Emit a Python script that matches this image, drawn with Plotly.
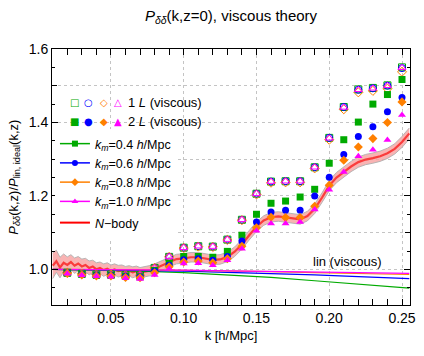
import plotly.graph_objects as go

# k values of the perturbation theory points
k_pts = [0.02, 0.03, 0.04, 0.05, 0.06, 0.07, 0.08, 0.09, 0.10, 0.11, 0.12, 0.13,
         0.14, 0.15, 0.16, 0.17, 0.18, 0.19, 0.20, 0.21, 0.22, 0.23, 0.24, 0.25]

# 1-loop (viscous), open symbols
one_loop_04 = [0.991, 0.988, 0.986, 0.986, 0.984, 0.984, 1.004, 1.034, 1.059, 1.063, 1.062, 1.081,
               1.135, 1.206, 1.239, 1.240, 1.240, 1.278, 1.358, 1.442, 1.490, 1.494, 1.501, 1.550]
one_loop_06 = [0.991, 0.988, 0.986, 0.986, 0.984, 0.984, 1.004, 1.034, 1.059, 1.063, 1.062, 1.081,
               1.135, 1.206, 1.239, 1.240, 1.240, 1.278, 1.358, 1.442, 1.489, 1.493, 1.500, 1.548]
one_loop_08 = [0.991, 0.988, 0.986, 0.986, 0.984, 0.984, 1.004, 1.034, 1.058, 1.062, 1.061, 1.080,
               1.134, 1.204, 1.236, 1.237, 1.237, 1.275, 1.353, 1.436, 1.482, 1.486, 1.492, 1.538]
one_loop_10 = [0.991, 0.988, 0.986, 0.986, 0.984, 0.984, 1.004, 1.034, 1.059, 1.063, 1.062, 1.081,
               1.135, 1.206, 1.239, 1.240, 1.240, 1.278, 1.357, 1.441, 1.489, 1.493, 1.500, 1.549]

# 2-loop (viscous), filled symbols
two_loop_04 = [0.990, 0.987, 0.984, 0.984, 0.981, 0.980, 0.997, 1.016, 1.035, 1.035, 1.033, 1.049,
               1.093, 1.150, 1.180, 1.186, 1.197, 1.218, 1.289, 1.353, 1.401, 1.450, 1.476, 1.517]
two_loop_06 = [0.990, 0.986, 0.983, 0.983, 0.980, 0.979, 0.995, 1.011, 1.026, 1.029, 1.025, 1.035,
               1.077, 1.129, 1.156, 1.161, 1.161, 1.200, 1.251, 1.313, 1.362, 1.388, 1.429, 1.468]
two_loop_08 = [0.989, 0.985, 0.982, 0.982, 0.978, 0.977, 0.991, 1.007, 1.020, 1.023, 1.018, 1.029,
               1.063, 1.113, 1.142, 1.141, 1.141, 1.172, 1.229, 1.297, 1.333, 1.356, 1.400, 1.456]
two_loop_10 = [0.988, 0.984, 0.981, 0.980, 0.976, 0.974, 0.985, 1.002, 1.016, 1.017, 1.011, 1.025,
               1.056, 1.105, 1.125, 1.125, 1.129, 1.163, 1.217, 1.265, 1.308, 1.326, 1.352, 1.420]

# linear (viscous)
k_lin = [0.01, 0.04, 0.07, 0.10, 0.13, 0.16, 0.19, 0.22, 0.255]
lin_04 = [1.000, 0.998, 0.995, 0.991, 0.985, 0.978, 0.969, 0.960, 0.949]
lin_06 = [1.000, 0.999, 0.997, 0.995, 0.992, 0.989, 0.985, 0.980, 0.975]
lin_08 = [1.000, 1.000, 0.999, 0.997, 0.996, 0.994, 0.991, 0.989, 0.986]
lin_10 = [1.000, 1.000, 0.999, 0.998, 0.996, 0.995, 0.993, 0.991, 0.989]

# N-body mean and scatter
k_nbody = [0.0100, 0.0125, 0.0150, 0.0175, 0.0200, 0.0225, 0.0250, 0.0275, 0.0300, 0.0325,
           0.0350, 0.0375, 0.0400, 0.0425, 0.0450, 0.0475, 0.0500, 0.0525, 0.0550, 0.0575,
           0.0600, 0.0625, 0.0650, 0.0675, 0.0700, 0.0725, 0.0750, 0.0775, 0.0800, 0.0850,
           0.0900, 0.0950, 0.1000, 0.1050, 0.1100, 0.1150, 0.1200, 0.1250, 0.1300, 0.1350,
           0.1400, 0.1450, 0.1500, 0.1550, 0.1600, 0.1650, 0.1700, 0.1750, 0.1800, 0.1850,
           0.1900, 0.1950, 0.2000, 0.2050, 0.2100, 0.2150, 0.2200, 0.2250, 0.2300, 0.2350,
           0.2400, 0.2450, 0.2500, 0.2550]
nbody = [1.010, 1.022, 1.005, 1.018, 1.012, 1.020, 1.010, 1.016, 1.008, 1.012,
         1.004, 1.008, 1.000, 1.004, 0.998, 1.002, 0.996, 1.000, 0.995, 0.997,
         0.993, 0.996, 0.992, 0.995, 0.991, 0.993, 0.994, 0.997, 1.002, 1.010,
         1.020, 1.028, 1.030, 1.033, 1.033, 1.030, 1.026, 1.027, 1.034, 1.048,
         1.068, 1.093, 1.116, 1.133, 1.142, 1.144, 1.141, 1.137, 1.136, 1.145,
         1.165, 1.195, 1.228, 1.250, 1.266, 1.280, 1.292, 1.299, 1.303, 1.308,
         1.316, 1.328, 1.347, 1.370]
nbody_err = [0.035, 0.030, 0.028, 0.024, 0.022, 0.020, 0.021, 0.019, 0.020, 0.018,
             0.019, 0.017, 0.018, 0.016, 0.017, 0.016, 0.016, 0.015, 0.016, 0.015,
             0.015, 0.014, 0.015, 0.014, 0.014, 0.014, 0.013, 0.014, 0.013, 0.013,
             0.013, 0.013, 0.013, 0.013, 0.013, 0.013, 0.013, 0.013, 0.013, 0.013,
             0.013, 0.013, 0.013, 0.013, 0.013, 0.013, 0.013, 0.013, 0.013, 0.013,
             0.013, 0.013, 0.014, 0.014, 0.014, 0.014, 0.014, 0.014, 0.014, 0.014,
             0.014, 0.014, 0.015, 0.015]

km_labels = ["0.4", "0.6", "0.8", "1.0"]
colors = ["rgb(0,170,0)", "rgb(0,0,255)", "rgb(255,128,0)", "rgb(255,0,255)"]
symbols = ["square", "circle", "diamond", "triangle-up"]

FONT = "Liberation Sans, Arial, sans-serif"

fig = go.Figure()

# N-body band + mean
upper = [v + e for v, e in zip(nbody, nbody_err)]
lower = [v - e for v, e in zip(nbody, nbody_err)]
fig.add_trace(go.Scatter(x=k_nbody, y=upper, mode="lines",
                         line=dict(color="rgba(175,175,175,0.9)", width=1),
                         showlegend=False, hoverinfo="skip"))
fig.add_trace(go.Scatter(x=k_nbody, y=lower, mode="lines", fill="tonexty",
                         fillcolor="rgba(248,160,160,0.8)",
                         line=dict(color="rgba(175,175,175,0.9)", width=1),
                         showlegend=False, hoverinfo="skip"))
fig.add_trace(go.Scatter(x=k_nbody, y=nbody, mode="lines",
                         line=dict(color="rgb(250,60,60)", width=2.2),
                         showlegend=False))

# linear theory lines
for ys, c in zip([lin_04, lin_06, lin_08, lin_10], colors):
    fig.add_trace(go.Scatter(x=k_lin, y=ys, mode="lines", line=dict(color=c, width=1.2),
                             showlegend=False))

# 1-loop open symbols
for ys, c, s in zip([one_loop_04, one_loop_06, one_loop_08, one_loop_10], colors, symbols):
    fig.add_trace(go.Scatter(x=k_pts, y=ys, mode="markers",
                             marker=dict(symbol=s + "-open", size=7, color=c, line=dict(width=1)),
                             showlegend=False))

# 2-loop filled symbols
for ys, c, s in zip([two_loop_04, two_loop_06, two_loop_08, two_loop_10], colors, symbols):
    fig.add_trace(go.Scatter(x=k_pts, y=ys, mode="markers",
                             marker=dict(symbol=s, size=7, color=c),
                             showlegend=False))

# legend entries
for i, (lab, c, s) in enumerate(zip(km_labels, colors, symbols)):
    fig.add_trace(go.Scatter(x=[None], y=[None], mode="lines+markers",
                             line=dict(color=c, width=1.5),
                             marker=dict(symbol=s, size=6, color=c),
                             name="<i>k</i><sub><i>m</i></sub>=" + lab + " <i>h</i>/Mpc",
                             legendgroup="km", legendrank=i + 1))
fig.add_trace(go.Scatter(x=[None], y=[None], mode="lines",
                         line=dict(color="rgb(255,0,0)", width=2),
                         name="<i>N</i>\u2212body", legendgroup="nb", legendrank=10))

# dummy trace so the 0.05 minor-tick axis gets drawn
fig.add_trace(go.Scatter(x=[None], y=[None], yaxis="y2", showlegend=False, hoverinfo="skip"))


def px2paper(px, py):
    return (px - 52) / 364, (305 - py) / 256


# hand-made legend rows for 1-loop / 2-loop symbol sets
open_glyphs = ["\u25a1", "\u25cb", "\u25c7", "\u25b3"]
fill_glyphs = ["\u25a0", "\u25cf", "\u25c6", "\u25b2"]
glyph_x = [75, 89.5, 104.5, 119]
for row_y, glyphs in [(102, open_glyphs), (121, fill_glyphs)]:
    for gx, g, c in zip(glyph_x, glyphs, colors):
        xp, yp = px2paper(gx, row_y)
        fig.add_annotation(x=xp, y=yp, xref="paper", yref="paper", text=g, showarrow=False,
                           font=dict(color=c, size=10, family="DejaVu Sans"),
                           xanchor="center", yanchor="middle")
for row_y, txt in [(102, "1 <i>L</i> (viscous)"), (121, "2 <i>L</i> (viscous)")]:
    xp, yp = px2paper(127, row_y)
    fig.add_annotation(x=xp, y=yp, xref="paper", yref="paper", text=txt, showarrow=False,
                       font=dict(color="black", size=13, family=FONT),
                       xanchor="left", yanchor="middle")

fig.add_shape(type="rect", xref="paper", yref="paper", layer="below",
              x0=px2paper(55, 0)[0], x1=px2paper(215, 0)[0],
              y0=px2paper(0, 230)[1], y1=px2paper(0, 86)[1],
              fillcolor="white", line=dict(width=0))

fig.add_annotation(x=0.1875, y=1.022, xref="x", yref="y", text="lin (viscous)",
                   showarrow=False, xanchor="left", yanchor="middle",
                   font=dict(size=13, family=FONT, color="black"))

# y axis title
fig.add_annotation(x=px2paper(13, 0)[0], y=0.5, xref="paper", yref="paper",
                   xanchor="center", yanchor="middle",
                   text="<i>P</i><sub><i>\u03b4\u03b4</i></sub>(k,z)/<i>P</i><sub>lin, ideal</sub>(k,z)",
                   textangle=-90, showarrow=False, font=dict(size=13, family=FONT, color="black"))

fig.update_layout(
    width=424, height=356,
    margin=dict(l=52, r=8, t=49, b=51),
    paper_bgcolor="white", plot_bgcolor="white",
    font=dict(family=FONT, size=14, color="black"),
    title=dict(text="<i>P</i><sub><i>\u03b4\u03b4</i></sub>(k,z=0), viscous theory",
               x=0.5, xref="paper", xanchor="center", y=0.955, yanchor="middle",
               font=dict(size=15)),
    legend=dict(x=px2paper(55, 0)[0], y=px2paper(0, 129)[1], xanchor="left", yanchor="top",
                bgcolor="white", font=dict(size=12.5, family=FONT), itemwidth=30,
                tracegroupgap=2, traceorder="grouped"),
    xaxis=dict(range=[0.0095, 0.2555], tick0=0, dtick=0.05, tickformat=".2f",
               ticks="inside", ticklen=6, tickcolor="black", showline=True, linecolor="black",
               linewidth=1, mirror="allticks", showgrid=True, gridcolor="#c4c4c4",
               griddash="dot", zeroline=False,
               minor=dict(dtick=0.01, tick0=0, ticks="inside", ticklen=3, tickcolor="black",
                          showgrid=False),
               title=dict(text="k [h/Mpc]", font=dict(size=13), standoff=6)),
    yaxis=dict(range=[0.903, 1.6], tick0=0, dtick=0.2, tickformat=".1f",
               ticks="inside", ticklen=6, tickcolor="black", showline=True, linecolor="black",
               linewidth=1, mirror="allticks", showgrid=True, gridcolor="#c4c4c4",
               griddash="dot", zeroline=False,
               minor=dict(dtick=0.1, tick0=0, ticks="inside", ticklen=5, tickcolor="black",
                          showgrid=True, gridcolor="#c4c4c4", griddash="dot")),
    yaxis2=dict(range=[0.903, 1.6], overlaying="y", side="left", anchor="x", tick0=0,
                dtick=0.05, ticks="inside", ticklen=3, tickcolor="black", mirror="ticks",
                showticklabels=False, showgrid=False, zeroline=False, showline=False),
)

fig.write_html("out.html", config={"displayModeBar": False},
               post_script="document.body.style.margin='0px';")
